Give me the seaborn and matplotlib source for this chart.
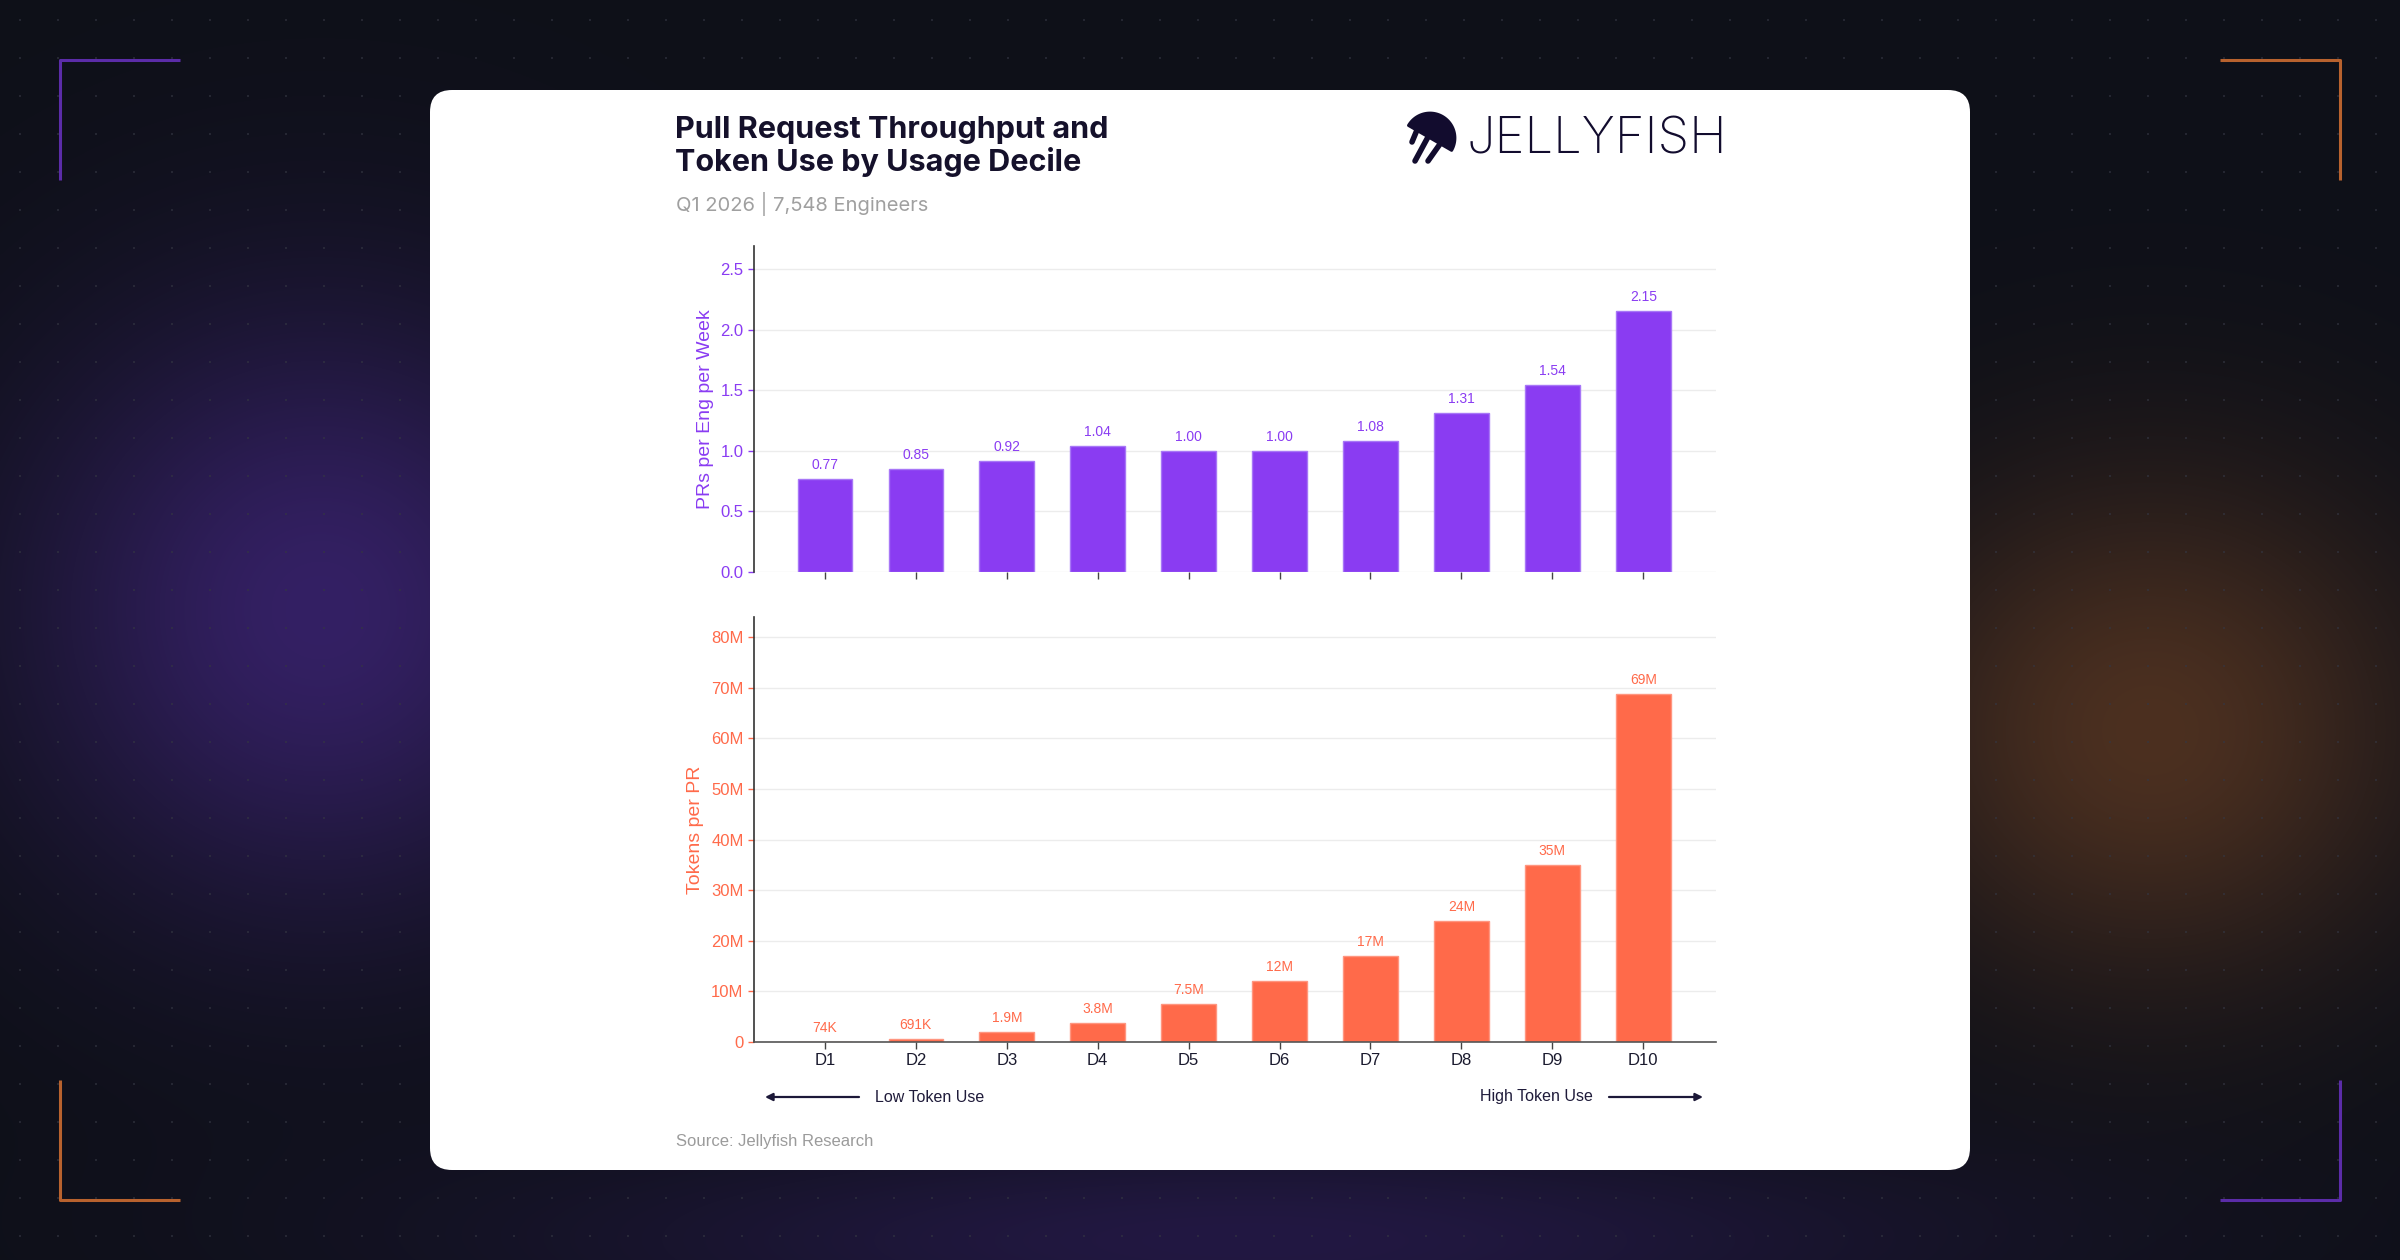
import numpy as np
import pandas as pd
import matplotlib
matplotlib.use("Agg")
import matplotlib.pyplot as plt
import seaborn as sns
from matplotlib.patches import FancyBboxPatch, Polygon
from matplotlib.ticker import FuncFormatter, MultipleLocator

# data
deciles = ["D1", "D2", "D3", "D4", "D5", "D6", "D7", "D8", "D9", "D10"]
prs_per_week = [0.77, 0.85, 0.92, 1.04, 1.00, 1.00, 1.08, 1.31, 1.54, 2.15]
tokens_per_pr = [74e3, 691e3, 1.9e6, 3.8e6, 7.5e6, 12e6, 17e6, 24e6, 35e6, 68.7e6]

title_lines = ["Pull Request Throughput and", "Token Use by Usage Decile"]
subtitle = "Q1 2026 | 7,548 Engineers"
source = "Source: Jellyfish Research"

purple = "#8a3cf2"
orange = "#ff6a4a"
navy = "#15112b"

W, H = 2400, 1260

sns.set_theme(style="white")
plt.rcParams['font.family'] = ['Liberation Sans', 'DejaVu Sans']

fig = plt.figure(figsize=(24, 12.6), dpi=100)


def frac(l, t, r, b):
    # pixel box -> figure fraction
    return [l / W, 1 - b / H, (r - l) / W, (b - t) / H]


# background: dark with glows and dot grid
bg = fig.add_axes([0, 0, 1, 1], zorder=0)
Y, X = np.mgrid[0:H, 0:W].astype(float)
img = np.zeros((H, W, 3)) + np.array([14, 16, 24])
g1 = np.exp(-(((X - 320) / 300) ** 2 + ((Y - 610) / 300) ** 2))
g2 = np.exp(-(((X - 2150) / 270) ** 2 + ((Y - 730) / 250) ** 2))
g3 = np.exp(-(((X - 1250) / 700) ** 2 + ((Y - 1240) / 110) ** 2))
img += g1[..., None] * np.array([38, 16, 76])
img += g2[..., None] * np.array([62, 32, 8])
img += g3[..., None] * np.array([20, 8, 42])
for dy in (0, 1):
    for dx in (0, 1):
        img[19 + dy::38, 19 + dx::38] = img[19 + dy::38, 19 + dx::38] * 0.4 + np.array([52, 54, 66]) * 0.6
bg.imshow(np.clip(img, 0, 255).astype(np.uint8), extent=(0, W, H, 0), aspect='auto', interpolation='nearest')
bg.set_xlim(0, W)
bg.set_ylim(H, 0)
bg.axis('off')

# corner brackets
bl = 2.2
bg.plot([60, 60, 180], [180, 60, 60], color="#5b2ca8", lw=bl, solid_capstyle='butt')
bg.plot([2220, 2340, 2340], [60, 60, 180], color="#b8622e", lw=bl, solid_capstyle='butt')
bg.plot([60, 60, 180], [1080, 1200, 1200], color="#b8622e", lw=bl, solid_capstyle='butt')
bg.plot([2220, 2340, 2340], [1200, 1200, 1080], color="#5b2ca8", lw=bl, solid_capstyle='butt')

# white card
card = FancyBboxPatch((430, 90), 1540, 1080, boxstyle="round,pad=0,rounding_size=22",
                      facecolor="white", edgecolor="none")
bg.add_patch(card)

# title and subtitle
bg.text(675, 138, title_lines[0], fontsize=22, fontweight='bold', color=navy,
        family=['Inter', 'DejaVu Sans'], va='baseline')
bg.text(675, 171, title_lines[1], fontsize=22, fontweight='bold', color=navy,
        family=['Inter', 'DejaVu Sans'], va='baseline')
bg.text(676, 211, subtitle, fontsize=14.5, color="#a0a0a0",
        family=['Inter', 'DejaVu Sans'], va='baseline')

# logo
c = np.array([1430.0, 138.0])
t = np.radians(np.linspace(-30, 150, 60))
dome = np.column_stack([c[0] + 25 * np.cos(t), c[1] - 25 * np.sin(t)])
bg.add_patch(Polygon(dome, closed=True, facecolor="#120c2e", edgecolor="#120c2e",
                     lw=2, joinstyle='round'))
for (x0, y0), (x1, y1) in [((1417, 130), (1412, 142)),
                           ((1428, 137), (1415, 161)),
                           ((1440, 144), (1428, 161))]:
    bg.plot([x0, x1], [y0, y1], color="#120c2e", lw=4, solid_capstyle='round')
bg.text(1466, 154, "JELLYFISH", fontsize=36.5, color="#120c2e", fontweight='light',
        family=['Inter', 'DejaVu Sans'], va='baseline')

# top chart: PRs per engineer per week
ax1 = fig.add_axes(frac(754, 246, 1716, 572), zorder=2)
ax1.set_facecolor('none')
sns.barplot(x=deciles, y=prs_per_week, color=purple, saturation=1, width=0.6,
            edgecolor="#a877f7", linewidth=1, ax=ax1)
ax1.bar_label(ax1.containers[0], labels=[f"{v:.2f}" for v in prs_per_week],
              padding=5, fontsize=10, color=purple)
ax1.set_ylim(0, 2.69)
ax1.yaxis.set_major_locator(MultipleLocator(0.5))
ax1.yaxis.set_major_formatter(FuncFormatter(lambda v, p: f"{v:.1f}"))
ax1.set_ylabel("PRs per Eng per Week", fontsize=14, color=purple)
ax1.yaxis.set_label_coords(-0.042, 0.5)
ax1.set_xlabel("")
ax1.tick_params(axis='y', colors=purple, labelsize=12, length=4, width=1, left=True)
ax1.tick_params(axis='x', length=5, width=1, color="#444444", bottom=True, labelbottom=False)

# bottom chart: tokens per PR
ax2 = fig.add_axes(frac(754, 617, 1716, 1042), zorder=2)
ax2.set_facecolor('none')
sns.barplot(x=deciles, y=tokens_per_pr, color=orange, saturation=1, width=0.6,
            edgecolor="#ff9680", linewidth=1, ax=ax2)


def tok_label(v):
    if v < 1e6:
        return f"{v / 1e3:.0f}K"
    if v < 10e6:
        return f"{v / 1e6:.1f}M"
    return f"{v / 1e6:.0f}M"


ax2.bar_label(ax2.containers[0], labels=[tok_label(v) for v in tokens_per_pr],
              padding=5, fontsize=10, color=orange)
ax2.set_ylim(0, 84e6)
ax2.yaxis.set_major_locator(MultipleLocator(10e6))
ax2.yaxis.set_major_formatter(FuncFormatter(lambda v, p: "0" if v == 0 else f"{v / 1e6:.0f}M"))
ax2.set_ylabel("Tokens per PR", fontsize=14, color=orange)
ax2.yaxis.set_label_coords(-0.052, 0.5)
ax2.set_xlabel("")
ax2.tick_params(axis='y', colors=orange, labelsize=12, length=4, width=1, left=True)
ax2.tick_params(axis='x', length=5, width=1, color="#444444", labelcolor="#1a1a2e",
                labelsize=12, bottom=True, pad=3)

for ax in (ax1, ax2):
    ax.set_xlim(-0.78, 9.80)
    ax.grid(axis='y', color="#ececec", lw=1)
    ax.set_axisbelow(True)
    for s in ('top', 'right'):
        ax.spines[s].set_visible(False)
    ax.spines['left'].set_color("#333333")
    ax.spines['left'].set_linewidth(1.2)

ax1.spines['bottom'].set_visible(False)
ax2.spines['bottom'].set_color("#555555")
ax2.spines['bottom'].set_linewidth(1.2)

# direction arrows
arrow_kw = dict(arrowstyle='-|>', color="#1c1838", lw=1.6, mutation_scale=11,
                shrinkA=0, shrinkB=0)
bg.annotate("", xy=(765, 1097), xytext=(859, 1097), arrowprops=arrow_kw)
bg.text(875, 1097, "Low Token Use", fontsize=11.5, color="#1f1b3a", va='center', ha='left')
bg.annotate("", xy=(1703, 1097), xytext=(1609, 1097), arrowprops=arrow_kw)
bg.text(1593, 1097, "High Token Use", fontsize=11.5, color="#1f1b3a", va='center', ha='right')

bg.text(676, 1146, source, fontsize=12, color="#9b9b9b", va='baseline')

fig.savefig("out.png", dpi=100)
